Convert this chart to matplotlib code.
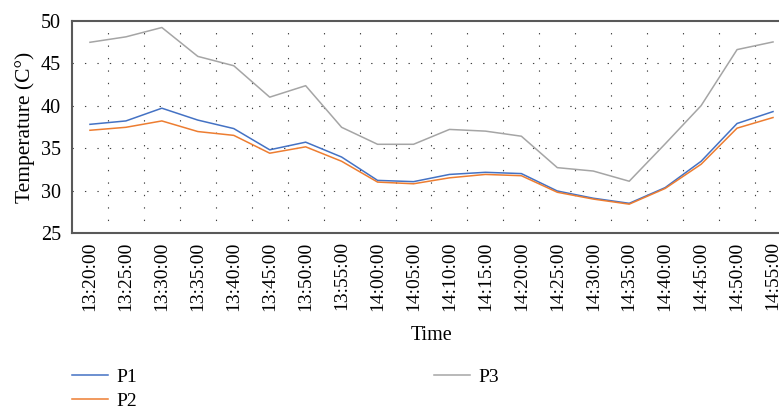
import matplotlib
matplotlib.use("Agg")
import matplotlib.pyplot as plt

times = ["13:20:00", "13:25:00", "13:30:00", "13:35:00", "13:40:00", "13:45:00",
         "13:50:00", "13:55:00", "14:00:00", "14:05:00", "14:10:00", "14:15:00",
         "14:20:00", "14:25:00", "14:30:00", "14:35:00", "14:40:00", "14:45:00",
         "14:50:00", "14:55:00"]
p1 = [37.8, 38.2, 39.7, 38.3, 37.3, 34.8, 35.7, 33.95, 31.2, 31.05, 31.9, 32.15,
      32.0, 29.95, 29.1, 28.5, 30.35, 33.45, 37.9, 39.3]
p2 = [37.1, 37.45, 38.2, 36.95, 36.5, 34.4, 35.15, 33.45, 31.0, 30.8, 31.5, 31.9,
      31.75, 29.8, 29.0, 28.4, 30.25, 33.1, 37.35, 38.6]
p3 = [47.46, 48.1, 49.2, 45.8, 44.7, 41.0, 42.35, 37.45, 35.45, 35.45, 37.2, 37.0,
      36.4, 32.7, 32.3, 31.1, 35.5, 40.0, 46.6, 47.5]
yticks = [25, 30, 35, 40, 45, 50]

plt.rcParams['font.family'] = ['Liberation Serif', 'DejaVu Serif']
fig = plt.figure(figsize=(7.79, 4.11), dpi=100)
ax = fig.add_axes([0.0924, 0.433, 0.923, 0.5166])

x = list(range(len(times)))
l1, = ax.plot(x, p1, color='#4472C4', lw=1.1, label='P1')
l2, = ax.plot(x, p2, color='#ED7D31', lw=1.1, label='P2')
l3, = ax.plot(x, p3, color='#A5A5A5', lw=1.1, label='P3')

ax.set_xlim(-0.5, len(times) - 0.5)
ax.set_ylim(25, 50)
ax.set_xticks(x)
ax.set_xticklabels(times, rotation=90, fontsize=14)
ax.set_yticks(yticks)
ax.set_yticklabels([str(v) for v in yticks], fontsize=14.5)
ax.tick_params(axis='both', length=0)
ax.tick_params(axis='y', pad=8)
ax.tick_params(axis='x', pad=6)

# grids
for xv in [i + 0.5 for i in range(len(times) - 1)]:
    ax.axvline(xv, color='#404040', lw=0.8, dashes=(1.2, 10), zorder=0)
for yv in [30, 35, 40, 45]:
    ax.axhline(yv, color='#404040', lw=0.8, dashes=(1.2, 10), zorder=0)

for s in ax.spines.values():
    s.set_color('#595959')
    s.set_linewidth(1.5)

ax.set_ylabel('Temperature (C°)', fontsize=15.5, labelpad=4)
ax.set_xlabel('Time', fontsize=14.5, labelpad=11)

fig.legend(handles=[l1, l2, l3], ncol=2, frameon=False, fontsize=14,
           loc='upper left', bbox_to_anchor=(0.083, 0.122),
           handlelength=1.85, handletextpad=0.4, columnspacing=15.3,
           labelspacing=0.3, borderaxespad=0)

fig.savefig('out.png', dpi=100)
